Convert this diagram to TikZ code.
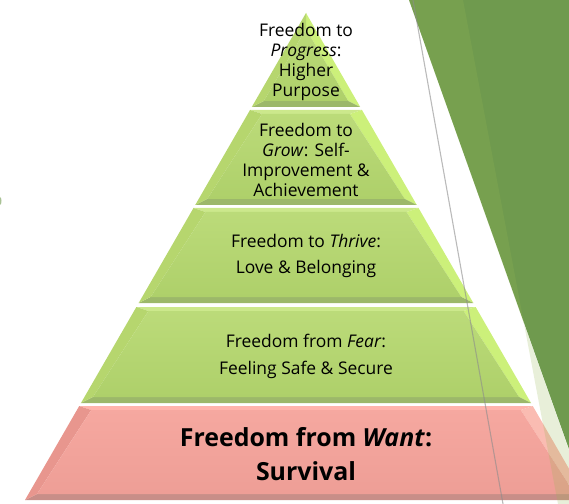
\documentclass[tikz,border=0pt]{standalone}
\usepackage{fontspec}
\setmainfont{Open Sans}
\usetikzlibrary{calc}

\definecolor{leafdark}{RGB}{111,154,78}
\definecolor{leafveil}{RGB}{151,183,84}
% green steps
\definecolor{grnface}{RGB}{174,208,106}
\definecolor{grnhigh}{RGB}{204,232,140}
\definecolor{grnside}{RGB}{204,240,122}
\definecolor{grnleft}{RGB}{182,214,110}
\definecolor{grnlow}{RGB}{156,184,106}
% red base step
\definecolor{redface}{RGB}{238,158,150}
\definecolor{redhigh}{RGB}{255,180,172}
\definecolor{redside}{RGB}{250,188,178}
\definecolor{redleft}{RGB}{232,150,142}
\definecolor{redlow}{RGB}{200,142,136}

% one step of the pyramid: #1 name, #2 top y, #3 bottom y, #4 colour family
\newcommand{\pyrstep}[4]{%
  \pgfmathsetmacro\wt{0.577*(#2-13)}
  \pgfmathsetmacro\wb{0.577*(#3-13)}
  \pgfmathsetmacro\wti{max(\wt-12,0)}
  \pgfmathsetmacro\ti{#2+ifthenelse(\wt<1,16,4)}
  \coordinate (#1-tl) at (306-\wt,#2);
  \coordinate (#1-tr) at (306+\wt,#2);
  \coordinate (#1-bl) at (306-\wb,#3);
  \coordinate (#1-br) at (306+\wb,#3);
  \coordinate (#1-itl) at (306-\wti,\ti);
  \coordinate (#1-itr) at (306+\wti,\ti);
  \coordinate (#1-ibl) at (306-\wb+12,#3-6);
  \coordinate (#1-ibr) at (306+\wb-12,#3-6);
  \fill[#4high] (#1-tl) -- (#1-tr) -- (#1-itr) -- (#1-itl) -- cycle;
  \fill[#4side] (#1-tr) -- (#1-br) -- (#1-ibr) -- (#1-itr) -- cycle;
  \fill[#4low] (#1-bl) -- (#1-br) -- (#1-ibr) -- (#1-ibl) -- cycle;
  \fill[#4left] (#1-tl) -- (#1-bl) -- (#1-ibl) -- (#1-itl) -- cycle;
  \shade[top color=#4face!55!#4high, bottom color=#4face] (#1-itl) -- (#1-itr) -- (#1-ibr) -- (#1-ibl) -- cycle;
}

\begin{document}
\begin{tikzpicture}[x=1bp, y=-1bp,
    steptext/.style={align=center, text=black, inner sep=0pt,
      font=\fontsize{17.5}{20}\selectfont},
    widetext/.style={steptext, font=\fontsize{17.5}{27}\selectfont},
    basetext/.style={steptext, font=\bfseries\fontsize{25}{34}\selectfont}]
  \useasboundingbox (0,0) rectangle (569,504);
  \clip (0,0) rectangle (569,504);

  % slide corner decoration
  \fill[leafdark] (409,0) -- (580,0) -- (580,480) -- cycle;
  \fill[leafdark!60!white] (0,201) ellipse [x radius=1.5, y radius=4];

  % pyramid, top to bottom
  \pyrstep{progress}{13}{107}{grn}
  \pyrstep{grow}{110}{205}{grn}
  \pyrstep{thrive}{208}{303}{grn}
  \pyrstep{fear}{307}{403}{grn}
  \pyrstep{want}{406}{500}{red}

  % translucent facet over the corner
  \fill[leafveil, opacity=.22] (409,0) -- (463,0) -- (558,504) -- (588,504) -- cycle;
  \coordinate (rule-a) at (413,0);
  \coordinate (rule-b) at (503,504);
  \draw[black!45, line width=1.1bp, opacity=.6] (rule-a) -- (rule-b);

  \node[steptext] (progress-txt) at (306,62)
    {Freedom to\\\textit{Progress}:\\Higher\\Purpose};
  \node[steptext] (grow-txt) at (306,160)
    {Freedom to\\\textit{Grow}: Self-\\Improvement \&\\Achievement};
  \node[widetext] (thrive-txt) at (306,256)
    {Freedom to \textit{Thrive}:\\Love \& Belonging};
  \node[widetext] (fear-txt) at (306,356)
    {Freedom from \textit{Fear}:\\Feeling Safe \& Secure};
  \node[basetext] (want-txt) at (306,454)
    {Freedom from \textit{Want}:\\Survival};
\end{tikzpicture}
\end{document}
